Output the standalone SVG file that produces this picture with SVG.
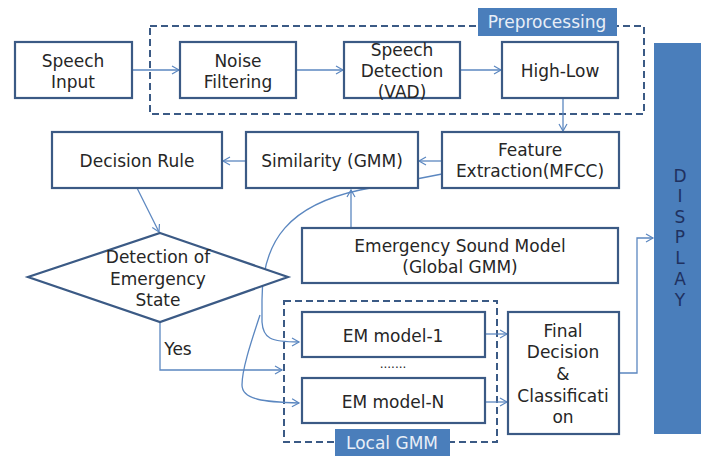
<svg xmlns="http://www.w3.org/2000/svg" width="701" height="456" viewBox="0 0 701 456">
<defs>
<marker id="ah" markerWidth="10" markerHeight="10" refX="8" refY="5" orient="auto" markerUnits="userSpaceOnUse">
<path d="M1,1 L8,5 L1,9" fill="none" stroke="#5b87c0" stroke-width="1.2"/>
</marker>
</defs>
<style>
.box{fill:#fff;stroke:#3b5a85;stroke-width:2.2}
.dash{fill:none;stroke:#3b5a85;stroke-width:2;stroke-dasharray:7,4}
.t{font-family:"DejaVu Sans","Noto Sans",sans-serif;font-size:17px;fill:#262626;text-anchor:middle}
.w{font-family:"DejaVu Sans","Noto Sans",sans-serif;font-size:17px;fill:#e8eef7;text-anchor:middle}
.d{font-family:"DejaVu Sans","Noto Sans",sans-serif;font-size:17px;fill:#1f3160;text-anchor:middle}
.lab{fill:#4a7ebb}
.c{fill:none;stroke:#5b87c0;stroke-width:1.3;marker-end:url(#ah)}
</style>
<rect width="701" height="456" fill="#fff"/>
<g id="preprocessing">
<rect class="dash" x="150" y="26" width="494" height="88"/>
<rect class="lab" x="478" y="8" width="139" height="28"/>
<text class="w" x="547" y="28">Preprocessing</text>
</g>
<g id="localgmm">
<rect class="dash" x="284" y="301" width="213" height="141"/>
<rect class="lab" x="335" y="429" width="115" height="27"/>
<text class="w" x="392" y="449">Local GMM</text>
</g>
<g id="display">
<rect class="lab" x="654" y="43" width="47" height="391"/>
<text class="d" x="680" y="182">D</text>
<text class="d" x="680" y="202">I</text>
<text class="d" x="680" y="223">S</text>
<text class="d" x="680" y="243">P</text>
<text class="d" x="680" y="264">L</text>
<text class="d" x="680" y="285">A</text>
<text class="d" x="680" y="306">Y</text>
</g>
<g id="connectors">
<line class="c" x1="132" y1="70" x2="179" y2="70"/>
<line class="c" x1="296" y1="70" x2="343" y2="70"/>
<line class="c" x1="460" y1="70" x2="501" y2="70"/>
<line class="c" x1="563" y1="98" x2="563" y2="131"/>
<line class="c" x1="442" y1="161" x2="419" y2="161"/>
<line class="c" x1="246" y1="161" x2="223" y2="161"/>
<line class="c" x1="137" y1="188" x2="159" y2="232"/>
<line class="c" x1="351" y1="228" x2="351" y2="190"/>
<path class="c" d="M442,174 L360,190 C290,205 262,240 262,300 L262,322 C263,338 270,342 299,342"/>
<path class="c" d="M260,315 C250,345 242,370 242,385 C242,400 265,402 299,403"/>
<polyline class="c" points="160,322 160,370 282,370"/>
<line class="c" x1="485" y1="334" x2="507" y2="334"/>
<line class="c" x1="485" y1="402" x2="507" y2="402"/>
<polyline class="c" points="619,373 637,373 637,238 653,238"/>
</g>
<g id="speech-input">
<rect class="box" x="15" y="42" width="117" height="56"/>
<text class="t" x="73" y="67">Speech</text>
<text class="t" x="73" y="88">Input</text>
</g>
<g id="noise-filtering">
<rect class="box" x="180" y="42" width="116" height="56"/>
<text class="t" x="238" y="67">Noise</text>
<text class="t" x="238" y="88">Filtering</text>
</g>
<g id="speech-detection">
<rect class="box" x="344" y="42" width="116" height="56"/>
<text class="t" x="402" y="56">Speech</text>
<text class="t" x="402" y="77">Detection</text>
<text class="t" x="402" y="98">(VAD)</text>
</g>
<g id="high-low">
<rect class="box" x="502" y="42" width="116" height="56"/>
<text class="t" x="560" y="77">High-Low</text>
</g>
<g id="feature-extraction">
<rect class="box" x="442" y="132" width="177" height="56"/>
<text class="t" x="530" y="156">Feature</text>
<text class="t" x="530" y="177">Extraction(MFCC)</text>
</g>
<g id="similarity">
<rect class="box" x="246" y="132" width="172" height="56"/>
<text class="t" x="332" y="167">Similarity (GMM)</text>
</g>
<g id="decision-rule">
<rect class="box" x="52" y="132" width="170" height="56"/>
<text class="t" x="137" y="167">Decision Rule</text>
</g>
<g id="detection-diamond">
<polygon class="box" points="160,233 288,277 160,322 28,277"/>
<text class="t" x="158" y="263">Detection of</text>
<text class="t" x="158" y="285">Emergency</text>
<text class="t" x="158" y="306">State</text>
</g>
<text class="t" x="178" y="355">Yes</text>
<g id="emergency-sound-model">
<rect class="box" x="302" y="228" width="316" height="55"/>
<text class="t" x="460" y="252">Emergency Sound Model</text>
<text class="t" x="460" y="273">(Global GMM)</text>
</g>
<g id="em-model-1">
<rect class="box" x="302" y="312" width="183" height="45"/>
<text class="t" x="393" y="342">EM model-1</text>
</g>
<text class="t" x="393" y="368" style="font-size:12px">.......</text>
<g id="em-model-n">
<rect class="box" x="302" y="378" width="183" height="45"/>
<text class="t" x="393" y="408">EM model-N</text>
</g>
<g id="final-decision">
<rect class="box" x="508" y="312" width="111" height="122"/>
<text class="t" x="563" y="337">Final</text>
<text class="t" x="563" y="358">Decision</text>
<text class="t" x="563" y="380">&amp;</text>
<text class="t" x="563" y="402">Classificati</text>
<text class="t" x="563" y="423">on</text>
</g>
</svg>
